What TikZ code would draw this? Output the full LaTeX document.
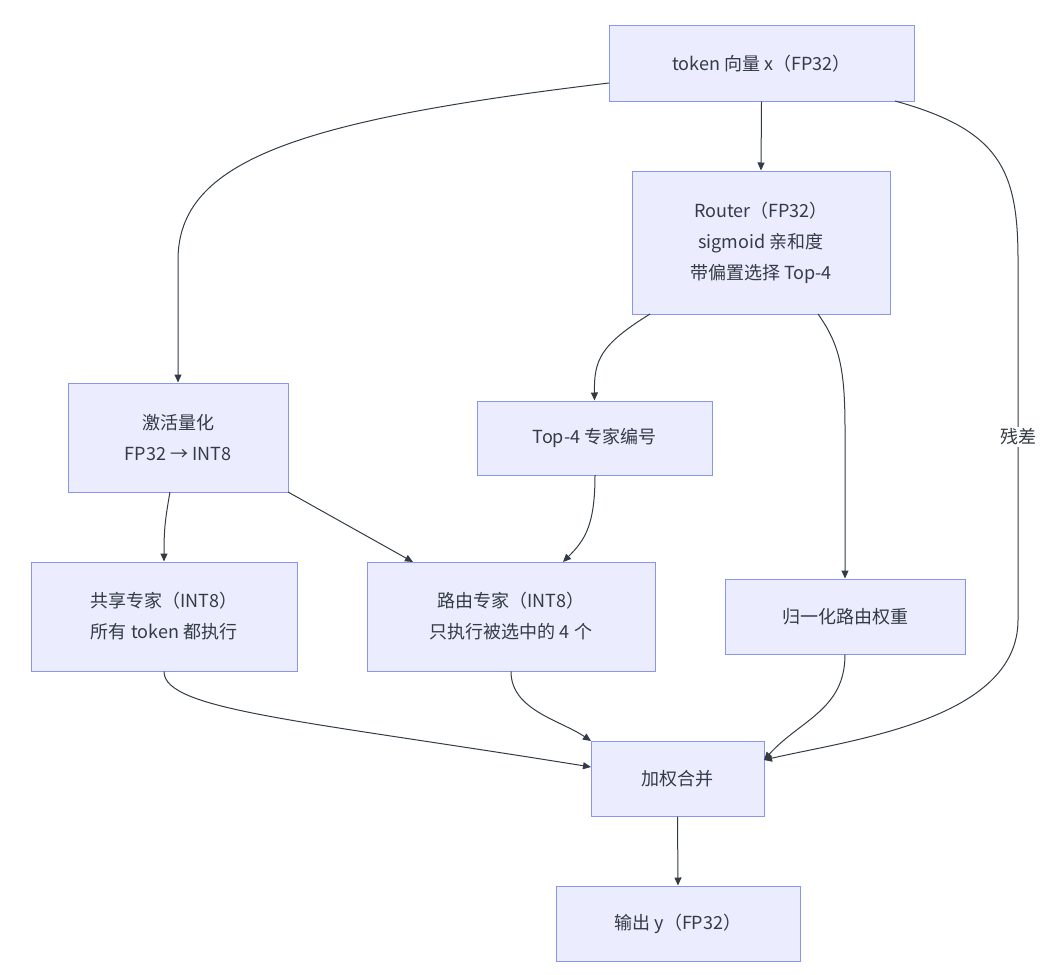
\documentclass[tikz,border=0pt]{standalone}
\usepackage{fontspec}
\setmainfont{Noto Sans CJK SC}
\usetikzlibrary{arrows.meta}
\definecolor{nfill}{HTML}{ECECFF}
\definecolor{nstroke}{HTML}{8A95EE}
\definecolor{ln}{HTML}{333B45}
\begin{document}
\begin{tikzpicture}[x=1pt,y=-1pt,
  box/.style={draw=nstroke,fill=nfill,line width=1pt,align=center,inner sep=0pt,font=\fontsize{18}{31}\selectfont,text=ln},
  ar/.style={draw=ln,line width=1pt,-{Triangle[length=8pt,width=7pt]}}]
\useasboundingbox (0,0) rectangle (1056,974);
\node[box,minimum width=305,minimum height=75] (tok) at (761.5,63.5) {token 向量 x（FP32）};
\node[box,minimum width=258,minimum height=143] (rt) at (761,242.5) {Router（FP32）\\sigmoid 亲和度\\带偏置选择 Top-4};
\node[box,minimum width=220,minimum height=109] (q) at (178,437.5) {激活量化\\FP32 → INT8};
\node[box,minimum width=235,minimum height=74] (t4) at (594.5,438) {Top-4 专家编号};
\node[box,minimum width=266,minimum height=109] (sh) at (164,616.5) {共享专家（INT8）\\所有 token 都执行};
\node[box,minimum width=288,minimum height=109] (re) at (511,616.5) {路由专家（INT8）\\只执行被选中的 4 个};
\node[box,minimum width=240,minimum height=75] (nm) at (845,616.5) {归一化路由权重};
\node[box,minimum width=173,minimum height=75] (ws) at (677.5,778.5) {加权合并};
\node[box,minimum width=244,minimum height=75] (out) at (678,923.5) {输出 y（FP32）};
\coordinate (a1) at (609,83);
\draw[ar] (a1) .. controls (300,120) and (178,160) .. (178,260) -- (q.north);
\draw[ar] (tok.south) -- (rt.north);
\coordinate (r1) at (895,101);
\coordinate (w1) at (764,760);
\draw[ar] (r1) .. controls (1000,130) and (1018,170) .. (1018,260) -- (1018,620) .. controls (1018,720) and (850,740) .. (w1);
\node[fill=white,font=\fontsize{18}{22}\selectfont,text=ln,inner sep=2pt] (lbl) at (1018,437) {残差};
\coordinate (r2) at (650,314);
\draw[ar] (r2) .. controls (600,345) and (594,360) .. (t4.north);
\coordinate (r3) at (818,314);
\draw[ar] (r3) .. controls (840,345) and (845,370) .. (845,430) -- (nm.north);
\coordinate (q1) at (170,492);
\draw[ar] (q1) .. controls (165,520) and (164,530) .. (sh.north);
\coordinate (q2) at (288,492);
\coordinate (e1) at (413,562);
\draw[ar] (q2) -- (e1);
\coordinate (t1) at (595,475);
\coordinate (e2) at (563,562);
\draw[ar] (t1) .. controls (595,525) and (585,540) .. (e2);
\coordinate (w2) at (591,767);
\draw[ar] (sh.south) .. controls (164,710) and (300,720) .. (w2);
\coordinate (w3) at (591,741);
\draw[ar] (re.south) .. controls (511,710) and (560,720) .. (w3);
\draw[ar] (nm.south) .. controls (845,710) and (800,720) .. (w1);
\draw[ar] (ws.south) -- (out.north);
\end{tikzpicture}
\end{document}
